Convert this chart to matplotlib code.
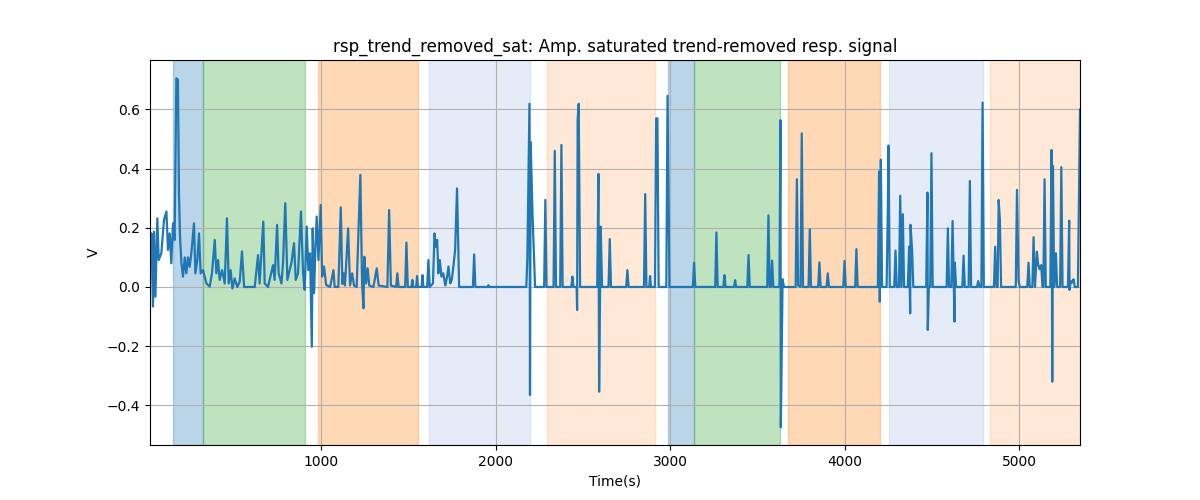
import matplotlib
matplotlib.use("Agg")
import matplotlib.pyplot as plt

# signal vertices (time in s, amplitude in V)
t_early = [20, 28, 37, 43, 51, 62, 70, 85, 100, 114, 123, 133, 142, 152, 161, 171, 180, 186, 192, 200,
           209, 219, 228, 238, 247, 257, 272, 280, 291, 301, 310, 324, 343, 362, 375, 391, 400, 410, 419, 433,
           448, 461, 471, 482, 492, 505, 520, 534, 547, 559, 620, 639, 648, 669, 677, 696, 725, 734, 748, 757,
           773, 782, 795, 807, 820, 830, 845, 855, 868, 885, 897, 906, 918, 927, 937, 947, 952, 960, 968, 975,
           985, 998, 1006, 1017, 1029]
v_early = [0.068, 0.181, -0.066, 0.187, -0.033, 0.232, 0.091, 0.114, 0.226, 0.255, 0.125, 0.181, 0.08, 0.215, 0.159, 0.705, 0.70, 0.317, 0.17, 0.08,
           0.035, 0.10, 0.046, 0.10, 0.068, 0.114, 0.215, 0.046, 0.091, 0.181, 0.046, 0.057, 0.012, 0.001, 0.046, 0.159, 0.046, 0.091, 0.024, 0.057,
           0.012, 0.232, 0.012, 0.057, -0.005, 0.029, 0.0, 0.018, 0.12, 0.0, 0.0, 0.108, 0.012, 0.221, 0.012, 0.0, 0.074, 0.024, 0.21, 0.046,
           0.012, 0.08, 0.283, 0.024, 0.057, 0.08, 0.148, 0.024, 0.046, 0.255, 0.046, -0.01, 0.204, 0.057, 0.114, -0.202, 0.198, -0.021, 0.136, 0.238,
           0.091, 0.277, 0.035, 0.069, 0.007]

t_mid = [1052, 1071, 1078, 1099, 1113, 1122, 1130, 1137, 1155, 1166, 1178, 1189, 1204, 1225, 1235, 1243, 1248, 1258, 1267, 1276,
         1300, 1319, 1330, 1380, 1390, 1400, 1430, 1437, 1444, 1482, 1489, 1497, 1518, 1523, 1528, 1545, 1550, 1555, 1576, 1581,
         1586, 1608, 1615, 1622, 1641, 1650, 1657, 1665, 1672, 1680, 1690, 1700, 1712, 1722, 1730, 1740, 1749, 1758, 1768, 1779,
         1791, 1870, 1877, 1884, 1955, 1959, 1963, 2176, 2182, 2194, 2197, 2201, 2211, 2226, 2278, 2285, 2292, 2332, 2339, 2346,
         2370, 2377, 2384, 2434, 2440, 2446, 2464, 2467, 2470, 2476, 2484, 2582, 2589, 2593, 2602, 2610, 2647, 2654, 2661, 2748,
         2755, 2762, 2850, 2857, 2864, 2880, 2885, 2890, 2913, 2920, 2927, 2934, 2978, 2985, 2996, 3130, 3137, 3144, 3258, 3265,
         3272, 3305, 3311, 3317, 3366, 3372, 3378, 3442, 3449, 3456, 3556, 3563, 3570, 3577, 3584, 3591, 3626, 3632, 3634, 3644,
         3652]
v_mid = [0.0, 0.057, 0.0, 0.0, 0.269, 0.01, 0.046, 0.005, 0.198, 0.005, 0.046, 0.005, 0.0, 0.379, 0.012, -0.072, 0.102, 0.012, 0.063, 0.005,
         0.0, 0.063, 0.005, 0.0, 0.26, 0.005, 0.0, 0.046, 0.0, 0.0, 0.15, 0.0, 0.0, 0.024, 0.0, 0.0, 0.037, 0.0, 0.0, 0.04,
         0.0, 0.0, 0.091, 0.0, 0.012, 0.181, 0.136, 0.159, 0.046, 0.091, 0.035, 0.046, 0.005, 0.035, 0.069, 0.012, 0.024, 0.069, 0.125, 0.333,
         0.0, 0.0, 0.11, 0.0, 0.0, 0.006, 0.0, 0.0, 0.10, 0.619, -0.365, 0.49, 0.255, 0.0, 0.0, 0.294, 0.0, 0.0, 0.46, 0.0,
         0.0, 0.48, 0.0, 0.0, 0.035, 0.0, 0.0, -0.078, 0.567, 0.619, 0.0, 0.0, 0.382, -0.354, 0.204, 0.0, 0.0, 0.162, 0.0, 0.0,
         0.057, 0.0, 0.0, 0.314, 0.0, 0.0, 0.037, 0.0, 0.0, 0.57, 0.57, 0.0, 0.0, 0.646, 0.0, 0.0, 0.082, 0.0, 0.0, 0.184,
         0.0, 0.0, 0.04, 0.0, 0.0, 0.023, 0.0, 0.0, 0.108, 0.0, 0.0, 0.242, 0.0, 0.0, 0.089, 0.0, 0.0, 0.564, -0.474, 0.026,
         0.0]

t_late = [3719, 3726, 3733, 3747, 3754, 3761, 3793, 3800, 3807, 3848, 3855, 3862, 3896, 3903, 3910, 3992, 3999, 4006, 4060, 4067,
          4074, 4190, 4197, 4201, 4207, 4214, 4240, 4247, 4251, 4258, 4284, 4291, 4298, 4311, 4318, 4325, 4333, 4340, 4362, 4369,
          4375, 4377, 4386, 4393, 4467, 4474, 4476, 4482, 4490, 4497, 4504, 4584, 4591, 4598, 4611, 4618, 4625, 4629, 4631, 4638,
          4674, 4681, 4688, 4710, 4717, 4724, 4758, 4765, 4772, 4783, 4790, 4797, 4855, 4862, 4869, 4876, 4882, 4889, 4896, 4980,
          4987, 4996, 5003, 5046, 5053, 5060, 5075, 5082, 5090, 5101, 5107, 5116, 5126, 5133, 5138, 5145, 5152, 5178, 5185, 5189,
          5193, 5200, 5210, 5217, 5234, 5241, 5248, 5279, 5286, 5288, 5295, 5303, 5311, 5318, 5336, 5348]
v_late = [0.0, 0.364, 0.005, 0.0, 0.519, 0.0, 0.0, 0.195, 0.0, 0.0, 0.083, 0.0, 0.0, 0.046, 0.0, 0.0, 0.088, 0.0, 0.0, 0.128,
          0.0, 0.0, 0.39, -0.05, 0.43, 0.0, 0.0, 0.266, 0.478, 0.0, 0.0, 0.123, 0.0, 0.0, 0.308, 0.0, 0.246, 0.0, 0.0, 0.136,
          -0.089, 0.21, 0.125, 0.0, 0.0, 0.319, -0.145, 0.0, 0.0, 0.452, 0.0, 0.0, 0.198, 0.0, 0.0, 0.223, 0.0, -0.117, 0.082, 0.0,
          0.0, 0.106, 0.0, 0.0, 0.358, 0.0, 0.0, 0.02, 0.0, 0.0, 0.623, 0.0, 0.0, 0.136, 0.0, 0.0, 0.294, 0.226, 0.0, 0.0,
          0.328, 0.02, 0.0, 0.0, 0.082, 0.0, 0.0, 0.168, 0.0, 0.119, 0.08, 0.06, 0.074, 0.0, 0.0, 0.364, 0.0, 0.0, 0.463, -0.32,
          0.409, 0.0, 0.114, 0.0, 0.0, 0.405, 0.0, 0.0, 0.224, -0.01, 0.02, 0.015, 0.026, 0.0, 0.0, 0.6]

# shaded intervals
span_start = [152, 324, 983, 1619, 2295, 2988, 3137, 3676, 4255, 4834]
span_end = [324, 908, 1556, 2198, 2914, 3137, 3630, 4203, 4794, 5350]
span_color = ["C0", "C2", "C1", "#7fa3dc", "C1", "C0", "C2", "C1", "#7fa3dc", "C1"]
span_alpha = [0.3, 0.3, 0.3, 0.2, 0.17, 0.3, 0.3, 0.3, 0.2, 0.17]

t = t_early + t_mid + t_late
v = v_early + v_mid + v_late

fig, ax = plt.subplots(figsize=(12, 5), dpi=100)
for s, e, c, a in zip(span_start, span_end, span_color, span_alpha):
    ax.axvspan(s, e, color=c, alpha=a)
ax.plot(t, v, color="C0", linewidth=1.6)
ax.set_xlim(t[0], t[-1])
ax.set_ylim(-0.534, 0.767)
ax.grid(True)
ax.set_title("rsp_trend_removed_sat: Amp. saturated trend-removed resp. signal")
ax.set_xlabel("Time(s)")
ax.set_ylabel("V")
fig.savefig("out.png")
